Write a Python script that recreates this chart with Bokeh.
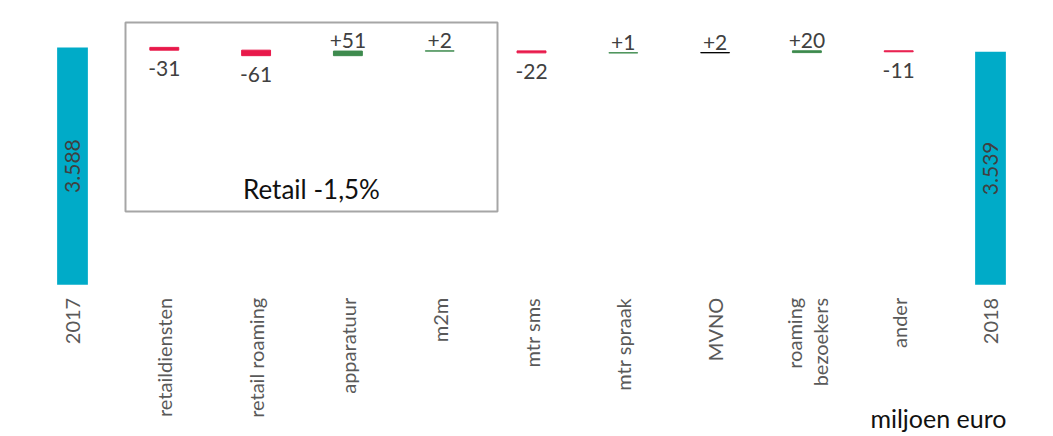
import numpy as np
from bokeh.plotting import figure
from bokeh.models import ColumnDataSource, BoxAnnotation, Range1d
from bokeh.embed import file_html
from bokeh.resources import INLINE
from bokeh.core.properties import value

# ---------------- data ----------------
categories = ["2017", "retaildiensten", "retail roaming", "apparatuur", "m2m",
              "mtr sms", "mtr spraak", "MVNO", "roaming\nbezoekers", "ander", "2018"]
start_total = 3588
end_total = 3539
deltas = [-31, -61, 51, 2, -22, 1, 2, 20, -11]
total_labels = ["3.588", "3.539"]
delta_labels = ["-31", "-61", "+51", "+2", "-22", "+1", "+2", "+20", "-11"]
box_label = "Retail -1,5%"
unit_label = "miljoen euro"

# ---------------- styles ----------------
TEAL = "#00ABC8"
RED = "#E8194A"
GREEN = "#3E8B4E"
BLACK = "#000000"
delta_colors = [RED, RED, GREEN, GREEN, RED, GREEN, BLACK, GREEN, RED]
FONT = value("Lato")

# ---------------- layout constants ----------------
W, H = 1053, 436
SLOT = 91.8          # px per category
X0 = 72.0            # px of first category centre
AXIS_MIN = 950.0     # truncated value axis start
K = 0.09             # px per unit
BASE_PX = 284.3      # y (from top) of the baseline
PXY = 1.0 / K        # data units per px


def y_from_screen(sy):
    return AXIS_MIN + (BASE_PX - sy) / K


def x_from_screen(sx):
    return (sx - X0) / SLOT


p = figure(width=W, height=H, output_backend="svg", toolbar_location=None,
           x_axis_type=None, y_axis_type=None, min_border=0,
           x_range=Range1d(-X0 / SLOT, (W - X0) / SLOT),
           y_range=Range1d(AXIS_MIN - (H - BASE_PX) / K, AXIS_MIN + BASE_PX / K))
p.outline_line_color = None
p.grid.visible = False
p.background_fill_color = "white"

# waterfall computation
levels = np.cumsum([start_total] + deltas)
prev = levels[:-1]
cur = levels[1:]
d_bottom = np.minimum(prev, cur)
d_top = np.maximum(prev, cur)
n = len(categories)
d_x = list(range(1, n - 1))

# totals
tot_x = [0, n - 1]
tot_top = [start_total, end_total]
p.vbar(x=tot_x, bottom=AXIS_MIN, top=tot_top, width=0.335,
       fill_color=TEAL, line_color=None)
p.text(x=tot_x, y=[(AXIS_MIN + t) / 2 for t in tot_top], text=total_labels,
       angle=np.pi / 2, text_align="center", text_baseline="middle",
       text_font=FONT, text_font_size="21px", text_color="#404040")

# deltas
src = ColumnDataSource(dict(x=d_x, bottom=d_bottom, top=d_top, color=delta_colors))
p.vbar(x="x", bottom="bottom", top="top", width=0.315, source=src,
       fill_color="color", line_color="color", line_width=1)

neg = [i for i, d in enumerate(deltas) if d < 0]
pos = [i for i, d in enumerate(deltas) if d >= 0]
p.text(x=[d_x[i] for i in neg], y=[d_bottom[i] - 11 * PXY for i in neg],
       text=[delta_labels[i] for i in neg], text_align="center", text_baseline="top",
       text_font=FONT, text_font_size="21px", text_color="#404040")
p.text(x=[d_x[i] for i in pos], y=[d_top[i] + 3 * PXY for i in pos],
       text=[delta_labels[i] for i in pos], text_align="center", text_baseline="bottom",
       text_font=FONT, text_font_size="21px", text_color="#404040")

# category labels
p.text(x=list(range(n)), y=AXIS_MIN - 13 * PXY, text=categories,
       angle=np.pi / 2, text_align="right", text_baseline="middle",
       text_font=FONT, text_font_size="20px", text_color="#595959",
       text_line_height=1.1)

# retail box
box = BoxAnnotation(left=x_from_screen(125), right=x_from_screen(497),
                    top=y_from_screen(22), bottom=y_from_screen(211),
                    fill_color=None, fill_alpha=0, line_color="#A6A6A6",
                    line_alpha=1.0, line_width=2)
p.add_layout(box)
p.text(x=[(x_from_screen(125) + x_from_screen(497)) / 2], y=[y_from_screen(188)],
       text=[box_label], text_align="center", text_baseline="middle",
       text_font=FONT, text_font_size="26px", text_color="#111111")

p.text(x=[x_from_screen(1006)], y=[y_from_screen(417)], text=[unit_label],
       text_align="right", text_baseline="middle",
       text_font=FONT, text_font_size="25px", text_color="#111111")

open("out.html", "w").write(file_html(p, INLINE))
